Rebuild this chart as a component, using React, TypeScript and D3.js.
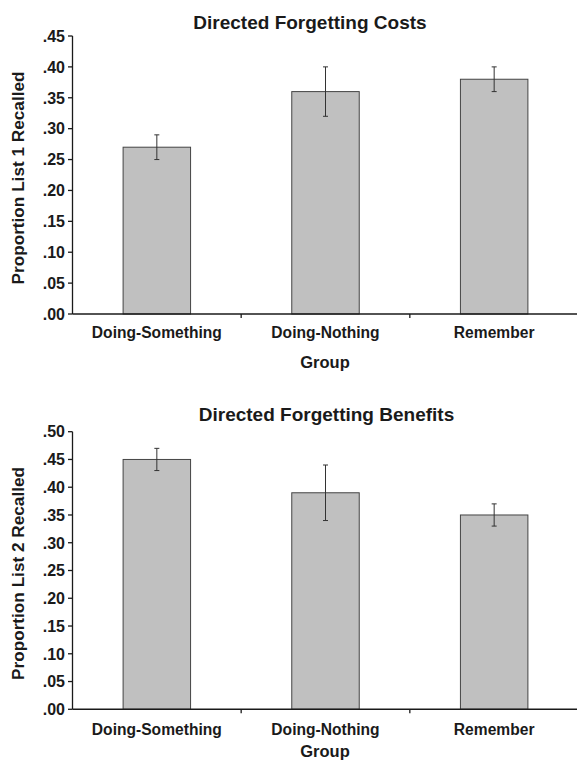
import React from "react";
import * as d3 from "d3";

const groups = ["Doing-Something", "Doing-Nothing", "Remember"];
const costMeans = [0.27, 0.36, 0.38];
const costLow = [0.25, 0.32, 0.36];
const costHigh = [0.29, 0.40, 0.40];
const costTicks = [0, 0.05, 0.1, 0.15, 0.2, 0.25, 0.3, 0.35, 0.4, 0.45];
const benefitMeans = [0.45, 0.39, 0.35];
const benefitLow = [0.43, 0.34, 0.33];
const benefitHigh = [0.47, 0.44, 0.37];
const benefitTicks = [0, 0.05, 0.1, 0.15, 0.2, 0.25, 0.3, 0.35, 0.4, 0.45, 0.5];

const FONT = "'Liberation Sans', Arial, Helvetica, sans-serif";
const fmt = (v: number) => d3.format(".2f")(v).replace(/^0/, "");

type PanelProps = {
  title: string;
  yLabel: string;
  means: number[];
  low: number[];
  high: number[];
  ticks: number[];
  yTop: number;
  yBottom: number;
  titleX: number;
  titleY: number;
  catY: number;
  groupY: number;
};

function Panel(p: PanelProps) {
  const left = 72.5;
  const right = 578.5;
  const x = d3.scaleBand<string>().domain(groups).range([left, right]).paddingInner(0).paddingOuter(0);
  const maxT = p.ticks[p.ticks.length - 1];
  const y = d3.scaleLinear().domain([0, maxT]).range([p.yBottom, p.yTop]);
  const bw = x.bandwidth() * 0.4;
  const cap = 2.5;
  const ink = "#1a1a1a";
  return (
    <g>
      <text x={p.titleX} y={p.titleY} textAnchor="middle" fontFamily={FONT} fontWeight="bold" fontSize={19} fill={ink}>
        {p.title}
      </text>
      {groups.map((g, i) => {
        const cx = (x(g) as number) + x.bandwidth() / 2;
        return (
          <g key={g}>
            <rect x={cx - bw / 2} y={y(p.means[i])} width={bw} height={y(0) - y(p.means[i])} fill="#c0c0c0" stroke="#444" strokeWidth={1} />
            <line x1={cx} x2={cx} y1={y(p.high[i])} y2={y(p.low[i])} stroke="#333" strokeWidth={1} />
            <line x1={cx - cap} x2={cx + cap} y1={y(p.high[i])} y2={y(p.high[i])} stroke="#333" strokeWidth={1} />
            <line x1={cx - cap} x2={cx + cap} y1={y(p.low[i])} y2={y(p.low[i])} stroke="#333" strokeWidth={1} />
            <text x={cx} y={p.catY} textAnchor="middle" fontFamily={FONT} fontWeight="bold" fontSize={15.6} fill={ink}>
              {g}
            </text>
          </g>
        );
      })}
      {/* y axis */}
      <line x1={left} x2={left} y1={y(maxT)} y2={y(0)} stroke={ink} strokeWidth={1.3} />
      {p.ticks.map((t) => (
        <g key={t}>
          <line x1={left - 4.5} x2={left} y1={y(t)} y2={y(t)} stroke={ink} strokeWidth={1.3} />
          <text x={65} y={y(t)} dy="0.36em" textAnchor="end" fontFamily={FONT} fontWeight="bold" fontSize={16} fill={ink}>
            {fmt(t)}
          </text>
        </g>
      ))}
      {/* x axis */}
      <line x1={left} x2={right} y1={y(0)} y2={y(0)} stroke={ink} strokeWidth={1.6} />
      {groups.slice(1).map((g) => (
        <line key={g} x1={x(g) as number} x2={x(g) as number} y1={y(0)} y2={y(0) + 4} stroke={ink} strokeWidth={1.3} />
      ))}
      <text x={325} y={p.groupY} textAnchor="middle" fontFamily={FONT} fontWeight="bold" fontSize={16.5} fill={ink}>
        Group
      </text>
      <text
        transform={`translate(24,${(p.yTop + p.yBottom) / 2 + 3}) rotate(-90)`}
        textAnchor="middle"
        fontFamily={FONT}
        fontWeight="bold"
        fontSize={17.2}
        fill={ink}
      >
        {p.yLabel}
      </text>
    </g>
  );
}

export default function App() {
  return (
    <svg width={577} height={761} style={{ position: "absolute", left: 0, top: 0, background: "#fff" }}>
      <rect width={577} height={761} fill="#fff" />
      <Panel
        title="Directed Forgetting Costs"
        yLabel="Proportion List 1 Recalled"
        means={costMeans}
        low={costLow}
        high={costHigh}
        ticks={costTicks}
        yTop={36}
        yBottom={314}
        titleX={310}
        titleY={29}
        catY={338}
        groupY={368}
      />
      <Panel
        title="Directed Forgetting Benefits"
        yLabel="Proportion List 2 Recalled"
        means={benefitMeans}
        low={benefitLow}
        high={benefitHigh}
        ticks={benefitTicks}
        yTop={431.7}
        yBottom={709.3}
        titleX={326.5}
        titleY={420.7}
        catY={734.5}
        groupY={756.5}
      />
    </svg>
  );
}
